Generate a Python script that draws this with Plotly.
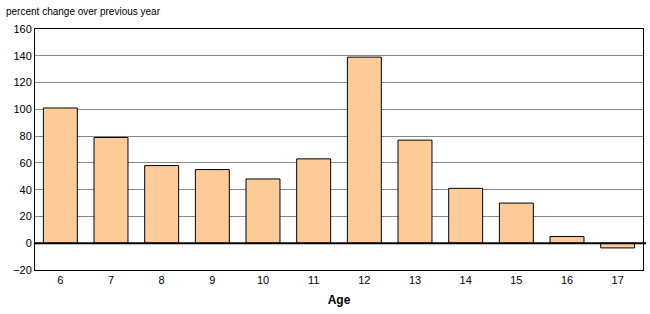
import plotly.graph_objects as go

ages = ["6", "7", "8", "9", "10", "11", "12", "13", "14", "15", "16", "17"]
values = [101, 79, 58, 55, 48, 63, 139, 77, 41, 30, 5, -3.5]
y_ticks = [-20, 0, 20, 40, 60, 80, 100, 120, 140, 160]

fig = go.Figure()
fig.add_trace(go.Bar(
    x=ages, y=values,
    marker=dict(color="#FFCC99", line=dict(color="#000000", width=1)),
))

fig.update_layout(
    width=650, height=314,
    margin=dict(l=35, r=7, t=29, b=44),
    plot_bgcolor="white", paper_bgcolor="white",
    bargap=0.33,
    showlegend=False,
    font=dict(family="Liberation Sans, Arial", size=11, color="#000000"),
    xaxis=dict(
        type="category",
        showline=True, linecolor="black", linewidth=1, mirror=True,
        ticks="", showgrid=False,
        tickfont=dict(size=11),
        title=dict(text="<b>Age</b>", font=dict(size=12, family="Liberation Sans Narrow, Arial Narrow, Liberation Sans"), standoff=10),
    ),
    yaxis=dict(
        range=[-20, 160], tickvals=y_ticks,
        showline=True, linecolor="black", linewidth=1, mirror=True,
        showgrid=True, gridcolor="#888888", gridwidth=1,
        zeroline=False,
        ticks="", tickfont=dict(size=11),
    ),
    shapes=[dict(
        type="line", xref="paper", yref="y", x0=0, x1=1.005, y0=0, y1=0,
        line=dict(color="black", width=2), layer="above",
    )],
    annotations=[dict(
        text="percent change over previous year",
        xref="paper", yref="paper", x=-31/608, y=1, xanchor="left", yanchor="bottom",
        yshift=10, showarrow=False, font=dict(size=10),
    )],
)

fig.write_html("out.html")
